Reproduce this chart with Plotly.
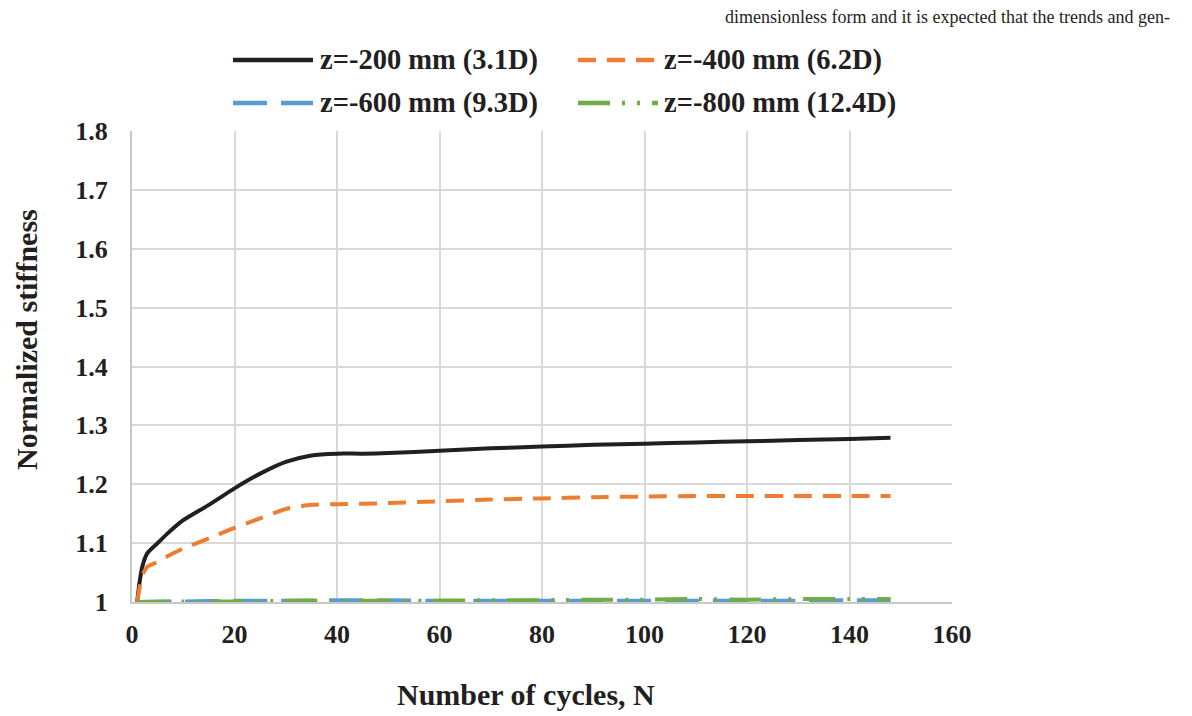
import plotly.graph_objects as go

# ---- data ----
n_main = [1, 1.5, 2, 3, 5, 7, 10, 15, 20, 25, 30, 35, 40, 45, 50, 60, 70, 80, 90, 100, 110, 120, 130, 140, 148]
k_200 = [1.0, 1.035, 1.06, 1.083, 1.100, 1.117, 1.139, 1.165, 1.193, 1.218, 1.238, 1.249, 1.252, 1.252, 1.253, 1.257, 1.261, 1.264, 1.267, 1.269, 1.271, 1.273, 1.275, 1.277, 1.279]
k_400 = [1.0, 1.025, 1.045, 1.06, 1.068, 1.078, 1.091, 1.108, 1.126, 1.142, 1.158, 1.165, 1.166, 1.167, 1.168, 1.171, 1.174, 1.176, 1.178, 1.179, 1.18, 1.18, 1.18, 1.18, 1.18]
n_deep = [1, 10, 20, 30, 40, 50, 60, 70, 80, 90, 100, 110, 120, 130, 140, 148]
k_600 = [1.0, 1.001, 1.002, 1.002, 1.003, 1.003, 1.002, 1.002, 1.002, 1.002, 1.002, 1.002, 1.002, 1.002, 1.003, 1.003]
k_800 = [1.0, 1.001, 1.001, 1.002, 1.002, 1.002, 1.002, 1.003, 1.003, 1.004, 1.004, 1.005, 1.004, 1.005, 1.005, 1.005]

names = ["z=-200 mm (3.1D)", "z=-400 mm (6.2D)", "z=-600 mm (9.3D)", "z=-800 mm (12.4D)"]
colors = ["#231f20", "#ed7d31", "#5b9bd5", "#70ad47"]
dashes = ["solid", "18px,11px", "34px,14px", "32px,12px,3px,12px,3px,12px"]

x_ticks = [0, 20, 40, 60, 80, 100, 120, 140, 160]
y_ticks = [1.0, 1.1, 1.2, 1.3, 1.4, 1.5, 1.6, 1.7, 1.8]
y_labels = ["1", "1.1", "1.2", "1.3", "1.4", "1.5", "1.6", "1.7", "1.8"]

serif = "Liberation Serif, Times New Roman, serif"
ink = "#231f20"

fig = go.Figure()
series = [(n_main, k_200), (n_main, k_400), (n_deep, k_600), (n_deep, k_800)]
for (xs, ys), nm, c, d in zip(series, names, colors, dashes):
    fig.add_trace(go.Scatter(x=xs, y=ys, mode="lines", name=nm,
                             line=dict(color=c, width=4, dash=d, shape="spline", smoothing=0.6),
                             showlegend=False))

L, R, T, B = 132, 240, 131, 114
W, H = 1192, 716
pw, ph = W - L - R, H - T - B

def px2paper(x, y):
    return (x - L) / pw, (H - B - y) / ph

# custom legend
leg = [(233, 313, 60, 318), (578, 658, 60, 662), (233, 313, 103, 318), (578, 658, 103, 662)]
shapes = []
annotations = []
for (x0, x1, y, tx), nm, c, d in zip(leg, names, colors, dashes):
    a0, b0 = px2paper(x0, y)
    a1, _ = px2paper(x1, y)
    shapes.append(dict(type="line", xref="paper", yref="paper", x0=a0, x1=a1, y0=b0, y1=b0,
                       line=dict(color=c, width=4.5, dash=d)))
    ta, tb = px2paper(tx, y)
    annotations.append(dict(xref="paper", yref="paper", x=ta, y=tb, xanchor="left", yanchor="middle",
                            text="<b>" + nm + "</b>", showarrow=False,
                            font=dict(family=serif, size=28.5, color=ink)))

ha, hb = px2paper(1172, 17)
annotations.append(dict(xref="paper", yref="paper", x=ha, y=hb, xanchor="right", yanchor="middle",
                        text="dimensionless form and it is expected that the trends and gen-",
                        showarrow=False, font=dict(family=serif, size=18, color=ink)))

# axis titles
xa, xb = px2paper(526, 694)
annotations.append(dict(xref="paper", yref="paper", x=xa, y=xb, xanchor="center", yanchor="middle",
                        text="<b>Number of cycles, N</b>", showarrow=False,
                        font=dict(family=serif, size=30, color=ink)))
ya, yb = px2paper(26, 340)
annotations.append(dict(xref="paper", yref="paper", x=ya, y=yb, xanchor="center", yanchor="middle",
                        text="<b>Normalized stiffness</b>", showarrow=False, textangle=-90,
                        font=dict(family=serif, size=30, color=ink)))

fig.update_layout(
    width=W, height=H,
    margin=dict(l=L, r=R, t=T, b=B),
    paper_bgcolor="white", plot_bgcolor="white",
    shapes=shapes, annotations=annotations,
    font=dict(family=serif, color=ink),
    xaxis=dict(range=[0, 160], tickvals=x_ticks, ticktext=["<b>%d</b>" % v for v in x_ticks],
               showgrid=True, gridcolor="#d9d9d9", gridwidth=2,
               showline=True, linecolor="#c8c8c8", linewidth=2, zeroline=False,
               ticks="", tickfont=dict(family=serif, size=26, color=ink), ticklabelstandoff=8),
    yaxis=dict(range=[1.0, 1.8], tickvals=y_ticks, ticktext=["<b>%s</b>" % s for s in y_labels],
               showgrid=True, gridcolor="#d9d9d9", gridwidth=2,
               showline=True, linecolor="#c8c8c8", linewidth=2, zeroline=False,
               ticks="", tickfont=dict(family=serif, size=26, color=ink), ticklabelstandoff=17),
)
fig.write_html("out.html")
